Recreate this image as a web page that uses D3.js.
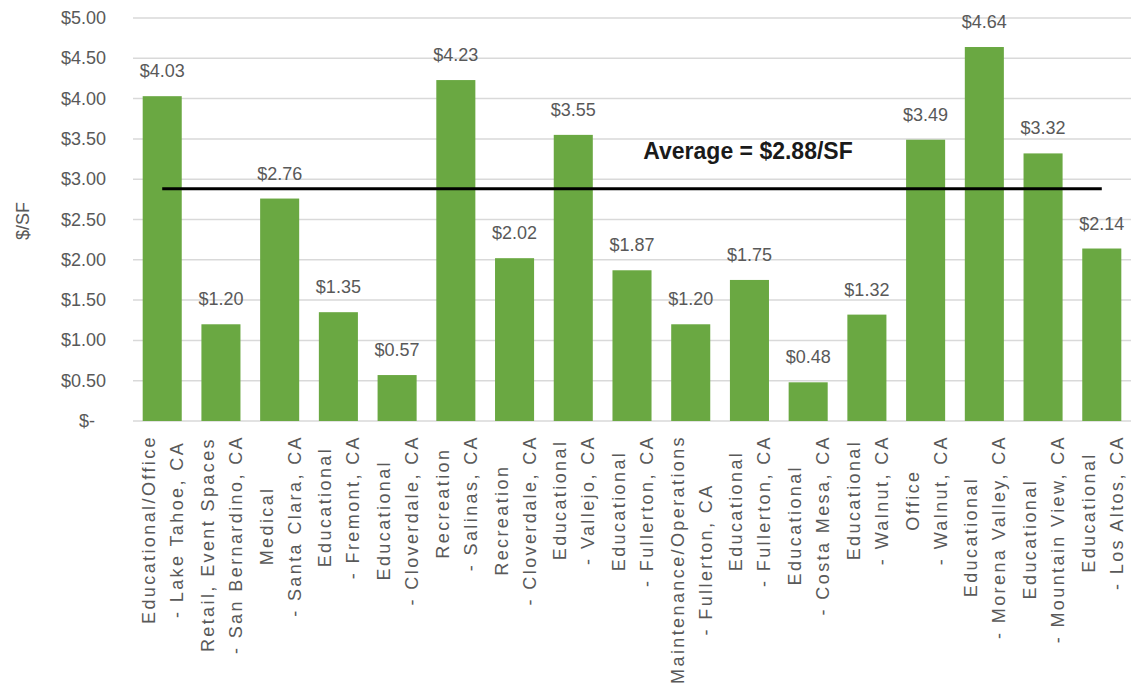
<!DOCTYPE html>
<html lang="en">
<head>
  <meta charset="UTF-8">
  <title>$/SF by Project</title>
  <script src="https://d3js.org/d3.v7.min.js"></script>
  <style>
    body { margin: 0; background: #fff; }
    text { font-family: "Liberation Sans", Arial, sans-serif; }
  </style>
</head>
<body>

<svg width="1141" height="687"></svg>

<script>
  // Use type (first line of label)
  var useTypes = ["Educational/Office", "Retail, Event Spaces", "Medical", "Educational",
    "Educational", "Recreation", "Recreation", "Educational", "Educational",
    "Maintenance/Operations", "Educational", "Educational", "Educational", "Office",
    "Educational", "Educational", "Educational"];

  // Location (second line of label)
  var locations = ["- Lake Tahoe, CA", "- San Bernardino, CA", "- Santa Clara, CA", "- Fremont, CA",
    "- Cloverdale, CA", "- Salinas, CA", "- Cloverdale, CA", "- Vallejo, CA", "- Fullerton, CA",
    "- Fullerton, CA", "- Fullerton, CA", "- Costa Mesa, CA", "- Walnut, CA", "- Walnut, CA",
    "- Morena Valley, CA", "- Mountain View, CA", "- Los Altos, CA"];

  // Cost per square foot
  var costs = [4.03, 1.20, 2.76, 1.35, 0.57, 4.23, 2.02, 3.55, 1.87, 1.20, 1.75, 0.48, 1.32, 3.49, 4.64, 3.32, 2.14];

  var average = 2.88;
  var yTicks = [0, 0.5, 1, 1.5, 2, 2.5, 3, 3.5, 4, 4.5, 5];

  var svg = d3.select("svg");
  var plotLeft = 133, plotRight = 1131, plotTop = 18, plotBottom = 421;

  var x = d3.scaleBand()
      .domain(d3.range(costs.length))
      .range([plotLeft, plotRight])
      .paddingInner(0.335)
      .paddingOuter(0.165);

  var y = d3.scaleLinear()
      .domain([0, 5])
      .range([plotBottom, plotTop]);

  var gray = "#595959";

  // gridlines
  svg.append("g")
    .selectAll("line")
    .data(yTicks)
    .join("line")
      .attr("x1", plotLeft)
      .attr("x2", plotRight)
      .attr("y1", function(d) { return y(d); })
      .attr("y2", function(d) { return y(d); })
      .attr("stroke", "#d9d9d9")
      .attr("stroke-width", 1.5);

  // y tick labels
  svg.append("g")
    .selectAll("text")
    .data(yTicks)
    .join("text")
      .attr("x", function(d) { return d === 0 ? 95 : 106; })
      .attr("y", function(d) { return y(d) + 6; })
      .attr("text-anchor", "end")
      .attr("font-size", 18)
      .attr("fill", gray)
      .text(function(d) { return d === 0 ? "$-" : "$" + d.toFixed(2); });

  // y axis title
  svg.append("text")
    .attr("transform", "translate(29,221) rotate(-90)")
    .attr("text-anchor", "middle")
    .attr("font-size", 18)
    .attr("fill", gray)
    .text("$/SF");

  // bars
  svg.append("g")
    .selectAll("rect")
    .data(costs)
    .join("rect")
      .attr("x", function(d, i) { return x(i); })
      .attr("width", x.bandwidth())
      .attr("y", function(d) { return y(d); })
      .attr("height", function(d) { return y(0) - y(d); })
      .attr("fill", "#6aa842");

  // value labels
  svg.append("g")
    .selectAll("text")
    .data(costs)
    .join("text")
      .attr("x", function(d, i) { return x(i) + x.bandwidth() / 2; })
      .attr("y", function(d) { return y(d) - 19; })
      .attr("text-anchor", "middle")
      .attr("font-size", 18)
      .attr("fill", gray)
      .text(function(d) { return "$" + d.toFixed(2); });

  // category labels, two lines rotated, block top aligned
  var labels = svg.append("g")
    .selectAll("g")
    .data(costs)
    .join("g");

  labels.each(function(d, i) {
    var g = d3.select(this);
    var cx = x(i) + x.bandwidth() / 2;
    var t1 = g.append("text")
      .attr("y", -7)
      .attr("text-anchor", "middle")
      .attr("font-size", 18)
      .attr("letter-spacing", 2.4)
      .attr("fill", gray)
      .text(useTypes[i]);
    var t2 = g.append("text")
      .attr("y", 21)
      .attr("text-anchor", "middle")
      .attr("font-size", 18)
      .attr("letter-spacing", 2.4)
      .attr("fill", gray)
      .text(locations[i]);
    var len = Math.max(t1.node().getComputedTextLength(), t2.node().getComputedTextLength());
    g.attr("transform", "translate(" + cx + "," + (435 + len / 2) + ") rotate(-90)");
  });

  // average line
  svg.append("line")
    .attr("x1", x(0) + x.bandwidth() / 2)
    .attr("x2", x(costs.length - 1) + x.bandwidth() / 2)
    .attr("y1", y(average))
    .attr("y2", y(average))
    .attr("stroke", "#000")
    .attr("stroke-width", 3);

  svg.append("text")
    .attr("x", 748)
    .attr("y", 159)
    .attr("text-anchor", "middle")
    .attr("font-size", 23)
    .attr("font-weight", "bold")
    .attr("fill", "#1a1a1a")
    .text("Average = $" + average.toFixed(2) + "/SF");
</script>

</body>
</html>
